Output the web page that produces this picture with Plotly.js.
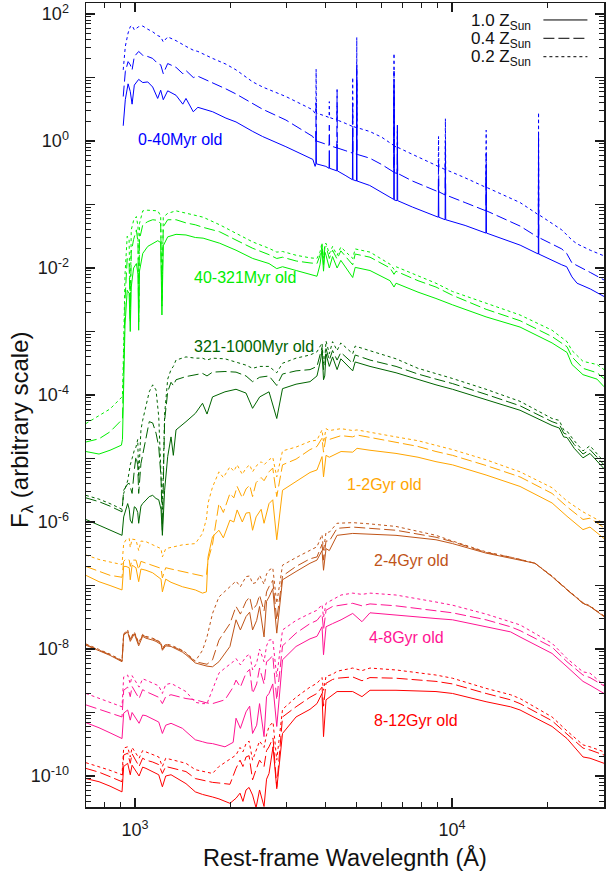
<!DOCTYPE html>
<html>
<head>
<meta charset="utf-8">
<script src="https://cdn.plot.ly/plotly-3.0.1.min.js"></script>
<style>html,body{margin:0;padding:0;background:#fff;}#chart{width:606px;height:873px;}</style>
</head>
<body>
<div id="chart"></div>
<script>
// ---- Data: wavelengths in Angstrom, fluxes stored as log10(F_lambda) ----
const groupNames = ["0-40Myr old","40-321Myr old","321-1000Myr old","1-2Gyr old","2-4Gyr old","4-8Gyr old","8-12Gyr old"];
const metallicityNames = ["1.0 Z<sub>Sun</sub>","0.4 Z<sub>Sun</sub>","0.2 Z<sub>Sun</sub>"];

// 0-40 Myr
const blueWave = [918,932,951,966,979,995,1027,1058,1097,1137,1179,1205,1228,1268,1347,1415,1448,1527,1579,1758,1936,2083,2352,2527,2992,3640,3700,3719,3727,3735,4000,4094,4102,4110,4332,4340,4348,4600,4851,4861,4871,4997,5007,5017,5500,6000,6550,6563,6576,6710,6725,6740,7500,8500,9050,9069,9088,9510,9532,9554,11000,12790,12818,12846,16400,18720,18751,18782,22200,23000,23900,24800,25900,27300,30200];
const blueZ10 = [0.24,0.65,0.90,0.78,0.58,0.88,0.97,0.92,0.93,0.85,0.67,0.80,0.65,0.79,0.72,0.58,0.67,0.46,0.53,0.46,0.36,0.30,0.15,0.07,-0.09,-0.29,-0.40,-0.36,0.15,-0.36,-0.40,-0.43,-0.15,-0.43,-0.47,-0.05,-0.47,-0.54,-0.61,0.20,-0.61,-0.63,0.96,-0.63,-0.70,-0.81,-0.92,0.80,-0.93,-0.94,0.25,-0.94,-1.04,-1.15,-1.20,-0.60,-1.20,-1.24,-0.35,-1.24,-1.33,-1.45,-0.50,-1.45,-1.64,-1.78,-0.30,-1.78,-1.95,-1.98,-2.14,-2.24,-2.28,-2.33,-2.45];
const blueZ04 = [0.70,1.09,1.25,1.20,1.12,1.33,1.41,1.35,1.33,1.30,1.22,1.20,1.06,1.22,1.16,1.06,1.11,1.00,1.02,0.92,0.82,0.74,0.59,0.50,0.33,0.07,-0.01,0.00,0.60,0.00,-0.05,-0.07,0.25,-0.07,-0.11,0.81,-0.11,-0.15,-0.19,0.60,-0.19,-0.21,1.20,-0.21,-0.27,-0.37,-0.49,1.10,-0.50,-0.51,-0.10,-0.51,-0.63,-0.74,-0.80,-0.30,-0.80,-0.85,0.00,-0.85,-0.97,-1.10,-0.20,-1.10,-1.34,-1.52,0.10,-1.52,-1.70,-1.77,-1.92,-1.96,-2.00,-2.07,-2.19];
const blueZ02 = [1.12,1.49,1.70,1.80,1.82,1.75,1.80,1.81,1.76,1.72,1.66,1.64,1.56,1.64,1.58,1.51,1.49,1.43,1.41,1.30,1.21,1.12,0.93,0.85,0.70,0.49,0.43,0.44,1.13,0.44,0.39,0.37,0.62,0.37,0.33,0.55,0.33,0.28,0.23,1.00,0.23,0.21,1.63,0.21,0.15,0.06,-0.07,1.38,-0.08,-0.10,0.15,-0.10,-0.21,-0.33,-0.40,0.07,-0.40,-0.45,0.35,-0.45,-0.58,-0.73,0.17,-0.73,-0.97,-1.16,0.45,-1.16,-1.40,-1.48,-1.56,-1.62,-1.67,-1.72,-1.81];

// 40-321 Myr
const greenWave = [700,770,834,906,913,920,930,945,958,966,973,990,1010,1022,1027,1033,1058,1097,1137,1180,1205,1216,1228,1268,1347,1448,1550,1640,1850,2083,2352,2647,2800,2920,3225,3565,3750,3833,3890,3933,3970,4005,4102,4200,4340,4460,4861,4950,5512,6375,6563,6660,7812,8900,10036,12806,16391,20684,23055,23910,25895,28672,30170];
const greenZ10 = [-4.89,-4.93,-4.87,-4.79,-4.70,-4.0,-2.9,-2.35,-2.40,-3.00,-2.30,-2.00,-1.93,-2.10,-2.98,-2.05,-1.77,-1.66,-1.61,-1.57,-1.60,-2.74,-1.65,-1.51,-1.47,-1.48,-1.52,-1.53,-1.61,-1.72,-1.85,-1.93,-2.01,-1.98,-2.04,-2.10,-2.13,-1.95,-1.70,-2.05,-1.75,-1.80,-2.0,-1.82,-2.00,-1.88,-2.15,-1.99,-2.04,-2.20,-2.30,-2.24,-2.38,-2.48,-2.58,-2.77,-2.93,-3.18,-3.33,-3.52,-3.68,-3.75,-3.87];
const greenZ04 = [-4.74,-4.69,-4.58,-4.41,-4.38,-3.6,-2.5,-1.85,-1.90,-2.85,-1.75,-1.55,-1.40,-1.60,-2.85,-1.55,-1.32,-1.27,-1.24,-1.25,-1.30,-2.60,-1.35,-1.24,-1.24,-1.29,-1.32,-1.36,-1.43,-1.56,-1.69,-1.79,-1.85,-1.83,-1.89,-1.92,-1.93,-1.80,-1.66,-1.95,-1.68,-1.66,-1.85,-1.72,-1.86,-1.73,-1.95,-1.78,-1.83,-2.00,-2.10,-2.05,-2.20,-2.30,-2.43,-2.65,-2.83,-3.08,-3.24,-3.40,-3.58,-3.65,-3.74];
const greenZ02 = [-4.45,-4.33,-4.22,-4.04,-4.00,-3.3,-2.1,-1.50,-1.55,-2.70,-1.40,-1.25,-1.19,-1.35,-2.70,-1.30,-1.10,-1.09,-1.09,-1.10,-1.18,-2.50,-1.20,-1.14,-1.10,-1.14,-1.17,-1.20,-1.32,-1.45,-1.59,-1.69,-1.75,-1.74,-1.80,-1.84,-1.85,-1.75,-1.60,-1.85,-1.62,-1.61,-1.78,-1.66,-1.80,-1.67,-1.85,-1.70,-1.75,-1.94,-2.02,-1.98,-2.13,-2.24,-2.37,-2.56,-2.74,-2.98,-3.16,-3.30,-3.47,-3.52,-3.60];

// 321-1000 Myr
const dgWave = [700,770,834,910,921,937,948,959,966,979,995,1007,1020,1027,1044,1057,1083,1109,1137,1165,1188,1208,1220,1240,1268,1299,1321,1347,1448,1550,1633,1687,1756,1922,2083,2240,2349,2474,2647,2800,2920,3221,3565,3750,3850,3890,3933,3968,4005,4102,4200,4340,4460,4861,4950,5512,6660,7812,8902,10036,12806,16391,20684,21800,22500,23055,24300,25895,27246,30170];
const dgZ10 = [-5.96,-6.05,-6.12,-6.21,-5.92,-5.81,-5.71,-5.80,-5.97,-6.02,-5.76,-5.78,-5.85,-6.02,-5.75,-5.71,-5.65,-5.60,-5.58,-5.63,-5.65,-5.80,-6.21,-5.50,-4.97,-4.66,-4.95,-4.55,-4.42,-4.29,-4.13,-4.30,-4.03,-3.95,-3.91,-3.97,-4.21,-4.03,-3.95,-4.37,-3.90,-3.83,-3.79,-3.70,-3.45,-3.30,-3.76,-3.70,-3.35,-3.55,-3.40,-3.60,-3.43,-3.62,-3.48,-3.55,-3.65,-3.76,-3.84,-3.91,-4.07,-4.24,-4.48,-4.52,-4.66,-4.67,-4.84,-4.99,-4.92,-5.16];
const dgZ04 = [-5.62,-5.68,-5.75,-5.84,-5.50,-5.44,-5.40,-5.39,-5.45,-5.55,-5.18,-4.97,-5.10,-5.55,-5.08,-4.95,-4.66,-4.42,-4.44,-4.60,-4.81,-5.30,-6.13,-4.40,-3.95,-3.80,-3.85,-3.76,-3.71,-3.68,-3.66,-3.70,-3.64,-3.63,-3.64,-3.70,-3.79,-3.72,-3.70,-3.85,-3.67,-3.62,-3.60,-3.55,-3.35,-3.25,-3.60,-3.55,-3.27,-3.45,-3.30,-3.45,-3.33,-3.50,-3.37,-3.45,-3.55,-3.67,-3.75,-3.82,-3.99,-4.17,-4.42,-4.46,-4.60,-4.62,-4.78,-4.93,-4.86,-5.10];
const dgZ02 = [-5.58,-5.64,-5.71,-5.80,-5.55,-5.44,-5.35,-5.20,-5.10,-5.00,-4.87,-4.82,-4.70,-5.29,-4.55,-4.40,-4.18,-3.95,-3.84,-3.92,-4.34,-5.23,-5.80,-4.30,-3.75,-3.60,-3.55,-3.45,-3.40,-3.42,-3.42,-3.45,-3.42,-3.43,-3.48,-3.53,-3.58,-3.55,-3.55,-3.65,-3.50,-3.42,-3.37,-3.32,-3.22,-3.18,-3.50,-3.45,-3.15,-3.35,-3.16,-3.30,-3.18,-3.35,-3.23,-3.30,-3.43,-3.58,-3.66,-3.74,-3.91,-4.10,-4.37,-4.40,-4.55,-4.57,-4.72,-4.88,-4.80,-5.05];

// 1-2 Gyr
const orWave = [700,770,834,910,921,937,959,966,979,1007,1027,1044,1083,1137,1165,1208,1220,1250,1299,1412,1550,1633,1680,1700,1756,1840,1900,1993,2050,2100,2180,2240,2300,2349,2410,2500,2553,2647,2720,2800,2920,3221,3565,3750,3890,3933,4005,4102,4467,4861,5017,5512,6658,7812,8902,10036,12806,16391,20684,23055,25895,27246,30170];
const orZ10 = [-6.84,-6.94,-7.00,-7.07,-6.70,-6.70,-6.72,-6.91,-6.68,-6.72,-6.94,-6.74,-6.76,-6.80,-6.84,-6.90,-7.10,-6.90,-6.95,-7.02,-7.07,-7.12,-7.10,-6.55,-6.23,-6.13,-6.25,-5.97,-6.00,-5.81,-6.00,-5.86,-5.85,-6.13,-5.92,-5.80,-6.02,-5.71,-5.65,-6.28,-5.50,-5.36,-5.22,-5.18,-4.97,-5.29,-4.95,-4.98,-4.89,-4.90,-4.84,-4.87,-4.92,-4.98,-5.05,-5.10,-5.26,-5.44,-5.70,-5.91,-6.12,-6.08,-6.26];
const orZ04 = [-6.70,-6.78,-6.84,-6.87,-6.62,-6.58,-6.60,-6.70,-6.60,-6.60,-6.75,-6.62,-6.65,-6.68,-6.70,-6.73,-6.88,-6.72,-6.74,-6.78,-6.82,-6.85,-6.84,-6.60,-6.35,-5.71,-5.85,-5.55,-5.62,-5.44,-5.62,-5.48,-5.42,-5.60,-5.38,-5.30,-5.35,-5.21,-5.15,-5.60,-5.10,-5.01,-4.86,-4.81,-4.68,-4.90,-4.66,-4.70,-4.64,-4.66,-4.63,-4.67,-4.74,-4.81,-4.89,-4.95,-5.11,-5.29,-5.55,-5.76,-5.96,-5.94,-6.09];
const orZ02 = [-6.52,-6.59,-6.63,-6.67,-6.34,-6.28,-6.26,-6.40,-6.27,-6.28,-6.45,-6.30,-6.31,-6.36,-6.39,-6.42,-6.55,-6.42,-6.40,-6.36,-6.34,-6.18,-5.95,-5.70,-5.45,-5.21,-5.30,-5.13,-5.20,-5.10,-5.25,-5.15,-5.10,-5.21,-5.12,-5.05,-5.10,-5.02,-4.98,-5.29,-4.88,-4.82,-4.73,-4.71,-4.55,-4.75,-4.53,-4.56,-4.53,-4.56,-4.55,-4.59,-4.66,-4.72,-4.79,-4.86,-5.02,-5.21,-5.46,-5.67,-5.84,-5.90,-6.02];

// 2-4 Gyr
const brWave = [700,770,834,910,921,948,966,995,1027,1057,1083,1137,1165,1208,1220,1250,1299,1412,1448,1550,1633,1687,1756,1840,1993,2083,2150,2240,2300,2349,2420,2471,2553,2600,2647,2720,2800,2920,3221,3565,3750,3890,3933,4005,4102,4339,4861,5512,6658,8902,10036,12806,15500,18274,20684,23055,25895,27246,30170];
const brZ10 = [-7.94,-8.03,-8.10,-8.20,-7.78,-7.73,-7.88,-7.76,-7.95,-7.80,-7.83,-7.86,-7.88,-7.93,-8.02,-7.95,-7.96,-8.05,-8.09,-8.22,-8.25,-8.27,-8.28,-8.20,-7.96,-7.54,-7.70,-7.49,-7.42,-7.70,-7.55,-7.33,-7.81,-7.25,-7.18,-7.05,-7.75,-6.91,-6.78,-6.65,-6.60,-6.45,-6.76,-6.42,-6.45,-6.21,-6.18,-6.19,-6.21,-6.28,-6.34,-6.49,-6.57,-6.65,-6.86,-7.07,-7.28,-7.33,-7.49];
const brZ04 = [-7.93,-8.02,-8.09,-8.19,-7.77,-7.72,-7.85,-7.74,-7.92,-7.78,-7.81,-7.84,-7.86,-7.91,-8.00,-7.93,-7.95,-8.03,-8.07,-8.20,-8.23,-8.24,-8.17,-7.86,-7.60,-7.33,-7.45,-7.25,-7.18,-7.39,-7.30,-7.15,-7.40,-7.10,-7.02,-6.92,-7.54,-6.85,-6.70,-6.58,-6.55,-6.35,-6.60,-6.30,-6.30,-6.10,-6.08,-6.10,-6.13,-6.24,-6.31,-6.48,-6.56,-6.65,-6.86,-7.07,-7.28,-7.33,-7.48];
const brZ02 = [-7.92,-8.01,-8.08,-8.18,-7.76,-7.70,-7.84,-7.73,-7.90,-7.77,-7.80,-7.83,-7.85,-7.90,-7.99,-7.92,-7.94,-8.02,-8.06,-8.19,-8.02,-7.81,-7.44,-7.18,-7.02,-6.93,-7.02,-6.86,-6.85,-6.97,-6.95,-6.84,-6.98,-6.82,-6.76,-6.72,-7.28,-6.68,-6.56,-6.45,-6.39,-6.20,-6.45,-6.16,-6.16,-6.02,-6.01,-6.03,-6.07,-6.21,-6.30,-6.47,-6.56,-6.65,-6.85,-7.06,-7.27,-7.32,-7.48];

// 4-8 Gyr
const pkWave = [700,770,834,910,921,948,966,979,1030,1057,1083,1137,1188,1220,1250,1299,1412,1448,1550,1633,1687,1756,1840,1922,2040,2083,2150,2240,2300,2349,2420,2471,2553,2600,2647,2720,2800,2920,3221,3565,3750,3890,3933,4005,4200,4467,4861,5200,5512,6658,8902,10036,12806,15300,16391,20684,23055,25895,27246,30170];
const pkZ10 = [-9.16,-9.24,-9.32,-9.41,-9.01,-8.96,-9.12,-9.00,-9.17,-9.04,-9.05,-9.10,-9.15,-9.33,-9.20,-9.17,-9.25,-9.30,-9.43,-9.46,-9.48,-9.49,-9.52,-9.54,-9.47,-9.09,-9.25,-8.99,-8.90,-9.33,-9.20,-8.86,-9.38,-8.75,-8.70,-8.55,-9.22,-8.17,-7.96,-7.84,-7.80,-7.65,-8.09,-7.65,-7.60,-7.54,-7.44,-7.57,-7.43,-7.47,-7.52,-7.54,-7.65,-7.73,-7.81,-8.07,-8.28,-8.51,-8.57,-8.70];
const pkZ04 = [-8.88,-8.95,-9.00,-9.07,-8.65,-8.60,-8.75,-8.59,-8.78,-8.64,-8.67,-8.72,-8.76,-8.86,-8.75,-8.72,-8.76,-8.78,-8.80,-8.83,-8.85,-8.86,-8.83,-8.80,-8.60,-8.49,-8.60,-8.38,-8.32,-8.70,-8.55,-8.30,-8.55,-8.20,-8.17,-8.10,-8.80,-7.95,-7.75,-7.60,-7.55,-7.45,-7.70,-7.39,-7.33,-7.31,-7.28,-7.32,-7.29,-7.32,-7.39,-7.43,-7.54,-7.65,-7.71,-7.97,-8.20,-8.41,-8.45,-8.58];
const pkZ02 = [-8.70,-8.78,-8.84,-8.91,-8.44,-8.41,-8.55,-8.42,-8.60,-8.47,-8.49,-8.54,-8.58,-8.70,-8.56,-8.54,-8.64,-8.67,-8.84,-8.86,-8.86,-8.65,-8.38,-8.30,-8.20,-8.15,-8.25,-8.12,-8.08,-8.33,-8.22,-8.00,-8.20,-7.95,-7.86,-7.85,-8.44,-7.70,-7.55,-7.44,-7.39,-7.30,-7.50,-7.28,-7.22,-7.15,-7.12,-7.14,-7.12,-7.15,-7.26,-7.31,-7.45,-7.57,-7.62,-7.91,-8.15,-8.36,-8.38,-8.57];

// 8-12 Gyr
const rdWave = [700,770,834,910,921,948,966,979,1030,1057,1083,1137,1188,1220,1250,1299,1412,1448,1550,1633,1756,1840,1993,2083,2144,2190,2240,2290,2349,2409,2471,2553,2600,2647,2725,2800,2920,3221,3565,3750,3890,3933,4005,4200,4339,4861,5200,5512,6658,8902,10036,12806,15300,16391,20684,23055,25895,27246,30170];
const rdZ10 = [-10.04,-10.09,-10.16,-10.25,-9.85,-9.80,-9.98,-9.83,-10.00,-9.86,-9.88,-9.93,-9.98,-10.17,-10.00,-9.98,-10.08,-10.12,-10.25,-10.29,-10.33,-10.36,-10.43,-10.35,-10.27,-10.40,-10.22,-10.18,-10.30,-10.50,-10.22,-10.48,-10.05,-9.96,-9.54,-10.20,-9.33,-9.07,-8.95,-8.86,-8.70,-9.38,-8.80,-8.72,-8.67,-8.67,-8.75,-8.65,-8.65,-8.67,-8.70,-8.83,-8.91,-8.96,-9.22,-9.41,-9.70,-9.72,-9.80];
const rdZ04 = [-9.88,-9.94,-10.01,-10.09,-9.67,-9.64,-9.80,-9.65,-9.85,-9.72,-9.75,-9.78,-9.82,-9.96,-9.85,-9.87,-9.92,-9.93,-10.04,-10.07,-10.10,-10.11,-10.13,-9.88,-9.75,-9.85,-9.70,-9.68,-10.06,-9.90,-9.75,-9.85,-9.60,-9.54,-9.40,-10.17,-9.07,-8.91,-8.76,-8.70,-8.60,-8.90,-8.54,-8.48,-8.46,-8.44,-8.50,-8.45,-8.46,-8.51,-8.55,-8.70,-8.80,-8.86,-9.13,-9.34,-9.56,-9.59,-9.67];
const rdZ02 = [-9.79,-9.85,-9.91,-9.98,-9.56,-9.54,-9.70,-9.55,-9.72,-9.60,-9.62,-9.66,-9.70,-9.85,-9.72,-9.74,-9.78,-9.80,-9.90,-9.93,-9.96,-9.85,-9.73,-9.67,-9.55,-9.62,-9.49,-9.45,-9.75,-9.60,-9.45,-9.55,-9.35,-9.22,-9.15,-9.75,-8.95,-8.76,-8.60,-8.54,-8.45,-8.65,-8.43,-8.40,-8.35,-8.30,-8.34,-8.30,-8.33,-8.41,-8.46,-8.62,-8.72,-8.78,-9.07,-9.29,-9.51,-9.54,-9.62];

// ---- Styling ----
const groupColors = ["#0000ff","#00ee00","#006400","#ffa500","#bf5418","#ff1493","#ff0000"];
const dashStyles = ["solid","11px,4px","3px,3px"];
const FONT = "'Liberation Sans', Arial, Helvetica, sans-serif";

const groups = [
  [blueWave, [blueZ10, blueZ04, blueZ02]],
  [greenWave, [greenZ10, greenZ04, greenZ02]],
  [dgWave, [dgZ10, dgZ04, dgZ02]],
  [orWave, [orZ10, orZ04, orZ02]],
  [brWave, [brZ10, brZ04, brZ02]],
  [pkWave, [pkZ10, pkZ04, pkZ02]],
  [rdWave, [rdZ10, rdZ04, rdZ02]]
];

const traces = [];
groups.forEach(([wave, series], gi) => {
  series.forEach((logF, mi) => {
    if (logF.length !== wave.length) console.error("length mismatch", gi, mi, logF.length, wave.length);
    traces.push({
      type: "scatter", mode: "lines",
      x: wave,
      y: logF.map(v => Math.pow(10, v)),
      line: {color: groupColors[gi], width: 1, dash: dashStyles[mi]},
      name: groupNames[gi] + " " + metallicityNames[mi],
      showlegend: false, hoverinfo: "skip"
    });
  });
});
// empty helper trace so the overlay tick axis is drawn
traces.push({type: "scatter", mode: "lines", x: [], y: [], xaxis: "x2", yaxis: "y2", showlegend: false, hoverinfo: "skip"});

// Axis tick positions
const yLabelVals = [1e2,1e0,1e-2,1e-4,1e-6,1e-8,1e-10];
const yLabelText = ["10<sup>2</sup>","10<sup>0</sup>","10<sup>-2</sup>","10<sup>-4</sup>","10<sup>-6</sup>","10<sup>-8</sup>","10<sup>-10</sup>"];
const yDecadeVals = [1e2,1e1,1e0,1e-1,1e-2,1e-3,1e-4,1e-5,1e-6,1e-7,1e-8,1e-9,1e-10];
const xLabelVals = [1e3,1e4];
const xLabelText = ["10<sup>3</sup>","10<sup>4</sup>"];
const yMinorVals = [];
for (let e = -11; e <= 2; e++) for (let m = 2; m <= 9; m++) yMinorVals.push(m * Math.pow(10, e));
const xMinorVals = [700,800,900,2000,3000,4000,5000,6000,7000,8000,9000,20000,30000];

// age labels (paper coords)
const labelPos = [[0.0965,0.8305],[0.2046,0.658],[0.2046,0.5725],[0.4994,0.4014],[0.5521,0.3072],[0.5425,0.2111],[0.5521,0.1073]];
const annotations = groupNames.map((t, i) => ({
  text: t, xref: "paper", yref: "paper", x: labelPos[i][0], y: labelPos[i][1],
  xanchor: "left", yanchor: "middle", showarrow: false,
  font: {family: FONT, size: 16, color: groupColors[i]}
}));

// legend (gnuplot style: text then key sample)
const legRows = [0.9789, 0.9561, 0.9332];
const shapes = [];
metallicityNames.forEach((t, i) => {
  annotations.push({text: t, xref: "paper", yref: "paper", x: 0.863, y: legRows[i] - 0.002,
    xanchor: "right", yanchor: "middle", showarrow: false, font: {family: FONT, size: 17, color: "#111"}});
  shapes.push({type: "line", xref: "paper", yref: "paper", x0: 0.883, x1: 0.968, y0: legRows[i], y1: legRows[i],
    line: {color: "#000", width: 1, dash: dashStyles[i]}});
});

// axis titles
annotations.push({text: "Rest-frame Wavelegnth (Å)", xref: "paper", yref: "paper", x: 0.5, y: -0.0634,
  xanchor: "center", yanchor: "middle", showarrow: false, font: {family: FONT, size: 23.5, color: "#111"}});
annotations.push({text: "F<sub>λ</sub> (arbitrary scale)", xref: "paper", yref: "paper", x: -0.1236, y: 0.469,
  xanchor: "center", yanchor: "middle", textangle: -90, showarrow: false, font: {family: FONT, size: 24, color: "#111"}});

const INK = "#1a1a1a";
const minorStyle = {ticks: "inside", ticklen: 5, tickwidth: 1, tickcolor: INK, showgrid: false, tickmode: "array"};

const layout = {
  width: 606, height: 873,
  margin: {l: 86, r: 2, t: 3, b: 66},
  paper_bgcolor: "#fff", plot_bgcolor: "#fff",
  showlegend: false,
  xaxis: {
    type: "log", range: [2.8454, 4.4795], showgrid: false, zeroline: false,
    showline: true, linecolor: INK, linewidth: 1.5, mirror: "allticks",
    ticks: "inside", ticklen: 9, tickwidth: 1.2, tickcolor: INK,
    tickmode: "array", tickvals: xLabelVals, ticktext: xLabelText, ticklabelstandoff: 6,
    tickfont: {family: FONT, size: 18, color: INK},
    minor: Object.assign({tickvals: xMinorVals}, minorStyle)
  },
  yaxis: {
    type: "log", range: [-10.488, 2.173], showgrid: false, zeroline: false,
    showline: true, linecolor: INK, linewidth: 1.5, mirror: "allticks",
    ticks: "inside", ticklen: 9, tickwidth: 1.2, tickcolor: INK,
    tickmode: "array", tickvals: yLabelVals, ticktext: yLabelText, ticklabelstandoff: 12,
    tickfont: {family: FONT, size: 18, color: INK},
    minor: Object.assign({tickvals: yMinorVals}, minorStyle)
  },
  xaxis2: {type: "log", range: [2.8454, 4.4795], overlaying: "x", showgrid: false, zeroline: false,
    showticklabels: false, ticks: "", showline: false},
  yaxis2: {type: "log", range: [-10.488, 2.173], overlaying: "y", side: "left", showgrid: false, zeroline: false,
    showline: false, mirror: "allticks", ticks: "inside", ticklen: 9, tickwidth: 1.2, tickcolor: INK,
    tickmode: "array", tickvals: yDecadeVals, showticklabels: false},
  annotations: annotations,
  shapes: shapes
};

Plotly.newPlot("chart", traces, layout, {staticPlot: true, displayModeBar: false});
</script>
</body>
</html>
